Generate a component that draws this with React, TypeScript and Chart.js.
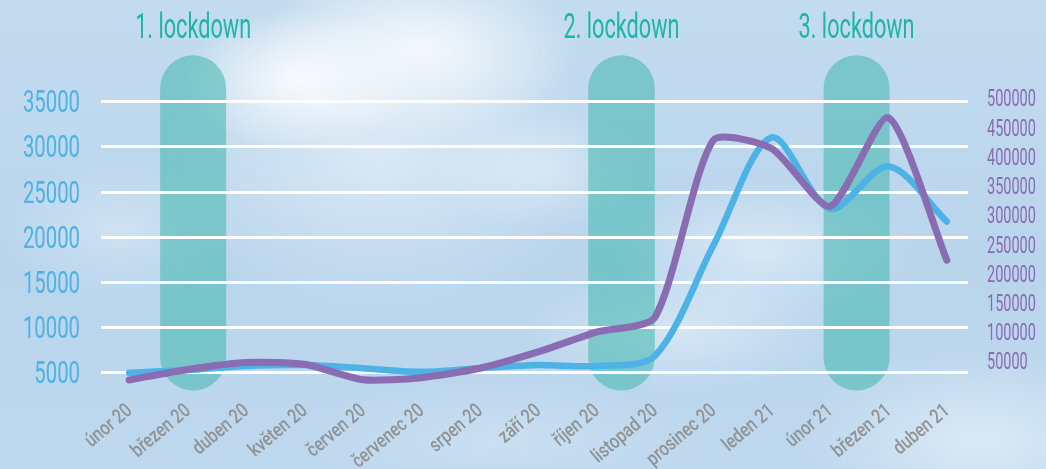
import React, { useEffect, useRef } from "react";
import { Chart, registerables } from "chart.js";

Chart.register(...registerables);

// ---- data ----
const months = [
  "únor 20", "březen 20", "duben 20", "květen 20", "červen 20", "červenec 20",
  "srpen 20", "září 20", "říjen 20", "listopad 20", "prosinec 20", "leden 21",
  "únor 21", "březen 21", "duben 21",
];
// left axis (blue)
const blueSeries = [4950, 5250, 5700, 5800, 5450, 5050, 5450, 5800, 5700, 6800, 19000, 31000, 23100, 27800, 21700];
// right axis (purple)
const purpleSeries = [18000, 36000, 48000, 45000, 18500, 22000, 38000, 66000, 100000, 125000, 428000, 414000, 315000, 467000, 223000];

const leftTicks = [5000, 10000, 15000, 20000, 25000, 30000, 35000];
const rightTicks = [50000, 100000, 150000, 200000, 250000, 300000, 350000, 400000, 450000, 500000];
const leftMin = 2985;
const leftMax = 35330;
const rightMin = 0;
const rightMax = 500000;

const lockdownTitles = ["1. lockdown", "2. lockdown", "3. lockdown"];
const lockdownStart = [0.53, 7.86, 11.89]; // in category units
const lockdownEnd = [1.66, 9.0, 13.02];

// ---- styles ----
const BLUE = "#4db2e5";
const PURPLE = "#8a6cb2";
const TEAL_TEXT = "#1db5a7";
const GRAY = "#909396";
const FONT = "Roboto";

function drawScaled(
  ctx: CanvasRenderingContext2D,
  text: string,
  x: number,
  y: number,
  size: number,
  sx: number,
  color: string,
  align: CanvasTextAlign,
  rotate = 0,
  weight = 400
) {
  ctx.save();
  ctx.translate(x, y);
  if (rotate) ctx.rotate(rotate);
  ctx.scale(sx, 1);
  ctx.font = `${weight} ${size}px ${FONT}`;
  ctx.fillStyle = color;
  ctx.textAlign = align;
  ctx.textBaseline = "alphabetic";
  ctx.fillText(text, 0, 0);
  ctx.restore();
}

const decorPlugin = {
  id: "decor",
  beforeDatasetsDraw(chart: any) {
    const { ctx, chartArea } = chart;
    const xs = chart.scales.x;
    const ys = chart.scales.y;
    // lockdown bands
    ctx.save();
    ctx.fillStyle = "rgba(58,180,170,0.52)";
    for (let i = 0; i < lockdownStart.length; i++) {
      const x0 = xs.getPixelForValue(lockdownStart[i]);
      const x1 = xs.getPixelForValue(lockdownEnd[i]);
      const top = chartArea.top - 43;
      const bottom = chartArea.bottom;
      const r = (x1 - x0) / 2;
      ctx.beginPath();
      ctx.roundRect(x0, top, x1 - x0, bottom - top, r);
      ctx.fill();
    }
    ctx.restore();
    // grid lines
    ctx.save();
    ctx.strokeStyle = "#ffffff";
    ctx.lineWidth = 3;
    for (const v of leftTicks) {
      const y = Math.round(ys.getPixelForValue(v)) + 0.5;
      ctx.beginPath();
      ctx.moveTo(chartArea.left + 1, y);
      ctx.lineTo(chartArea.right - 8, y);
      ctx.stroke();
    }
    ctx.restore();
  },
  afterDraw(chart: any) {
    const { ctx, chartArea } = chart;
    const xs = chart.scales.x;
    const ys = chart.scales.y;
    const y1 = chart.scales.y1;
    // titles
    for (let i = 0; i < lockdownTitles.length; i++) {
      const cx = (xs.getPixelForValue(lockdownStart[i]) + xs.getPixelForValue(lockdownEnd[i])) / 2;
      drawScaled(ctx, lockdownTitles[i], cx, chartArea.top - 60, 35, 0.62, TEAL_TEXT, "center");
    }
    // left ticks
    for (const v of leftTicks) {
      const y = ys.getPixelForValue(v);
      drawScaled(ctx, String(v), chartArea.left - 20, y + (0.711 * 31) / 2, 31, 0.655, BLUE, "right");
    }
    // right ticks
    for (const v of rightTicks) {
      const y = y1.getPixelForValue(v);
      drawScaled(ctx, String(v), chartArea.right + 11, y + (0.711 * 23) / 2, 23, 0.63, PURPLE, "left");
    }
    // x labels
    const ang = (-40 * Math.PI) / 180;
    months.forEach((m, i) => {
      const px = xs.getPixelForValue(i);
      drawScaled(ctx, m, px + 4, chartArea.bottom + 22, 20, 0.8, GRAY, "right", ang, 500);
    });
  },
};

export default function App() {
  const ref = useRef<HTMLCanvasElement>(null);
  useEffect(() => {
    document.body.style.margin = "0";
    const canvas = ref.current!;
    const chart = new Chart(canvas, {
      type: "line",
      data: {
        labels: months,
        datasets: [
          {
            data: purpleSeries,
            yAxisID: "y1",
            borderColor: PURPLE,
            borderWidth: 7,
            tension: 0.22,
            pointRadius: 0,
            borderCapStyle: "round",
            borderJoinStyle: "round",
            fill: false,
          },
          {
            data: blueSeries,
            yAxisID: "y",
            borderColor: BLUE,
            borderWidth: 6.5,
            tension: 0.3,
            pointRadius: 0,
            borderCapStyle: "round",
            borderJoinStyle: "round",
            fill: false,
          },
        ],
      },
      options: {
        animation: false,
        responsive: false,
        devicePixelRatio: 1,
        layout: { padding: { top: 98.3, left: 0, right: 0, bottom: 0 } },
        plugins: { legend: { display: false }, tooltip: { enabled: false }, title: { display: false } },
        scales: {
          x: {
            type: "category",
            offset: true,
            grid: { display: false },
            border: { display: false },
            ticks: { display: false },
            afterFit: (s: any) => {
              s.height = 78.5;
            },
          },
          y: {
            position: "left",
            min: leftMin,
            max: leftMax,
            ticks: { display: false },
            grid: { display: false },
            border: { display: false },
            afterFit: (s: any) => {
              s.width = 100;
            },
          },
          y1: {
            position: "right",
            min: rightMin,
            max: rightMax,
            ticks: { display: false },
            grid: { display: false },
            border: { display: false },
            afterFit: (s: any) => {
              s.width = 70;
            },
          },
        },
      },
      plugins: [decorPlugin],
    } as any);
    return () => chart.destroy();
  }, []);

  const bg = [
    "radial-gradient(ellipse 120px 70px at 300px 80px, rgba(255,255,255,0.85), rgba(255,255,255,0) 100%)",
    "radial-gradient(ellipse 160px 90px at 420px 50px, rgba(255,255,255,0.8), rgba(255,255,255,0) 100%)",
    "radial-gradient(ellipse 220px 170px at 380px 150px, rgba(255,255,255,0.45), rgba(255,255,255,0) 100%)",
    "radial-gradient(ellipse 110px 60px at 540px 170px, rgba(255,255,255,0.35), rgba(255,255,255,0) 100%)",
    "radial-gradient(ellipse 150px 70px at 760px 250px, rgba(255,255,255,0.45), rgba(255,255,255,0) 100%)",
    "radial-gradient(ellipse 160px 60px at 680px 330px, rgba(255,255,255,0.4), rgba(255,255,255,0) 100%)",
    "radial-gradient(ellipse 180px 90px at 980px 440px, rgba(255,255,255,0.45), rgba(255,255,255,0) 100%)",
    "radial-gradient(ellipse 120px 70px at 120px 230px, rgba(255,255,255,0.3), rgba(255,255,255,0) 100%)",
    "radial-gradient(ellipse 200px 60px at 500px 440px, rgba(255,255,255,0.2), rgba(255,255,255,0) 100%)",
    "linear-gradient(180deg, #c3dbef 0%, #b9d5ec 55%, #bed8ee 100%)",
  ].join(", ");

  return (
    <div
      style={{
        position: "absolute",
        left: 0,
        top: 0,
        width: 1046,
        height: 469,
        background: bg,
        overflow: "hidden",
      }}
    >
      <canvas ref={ref} width={1046} height={469} style={{ display: "block", width: 1046, height: 469 }} />
    </div>
  );
}
